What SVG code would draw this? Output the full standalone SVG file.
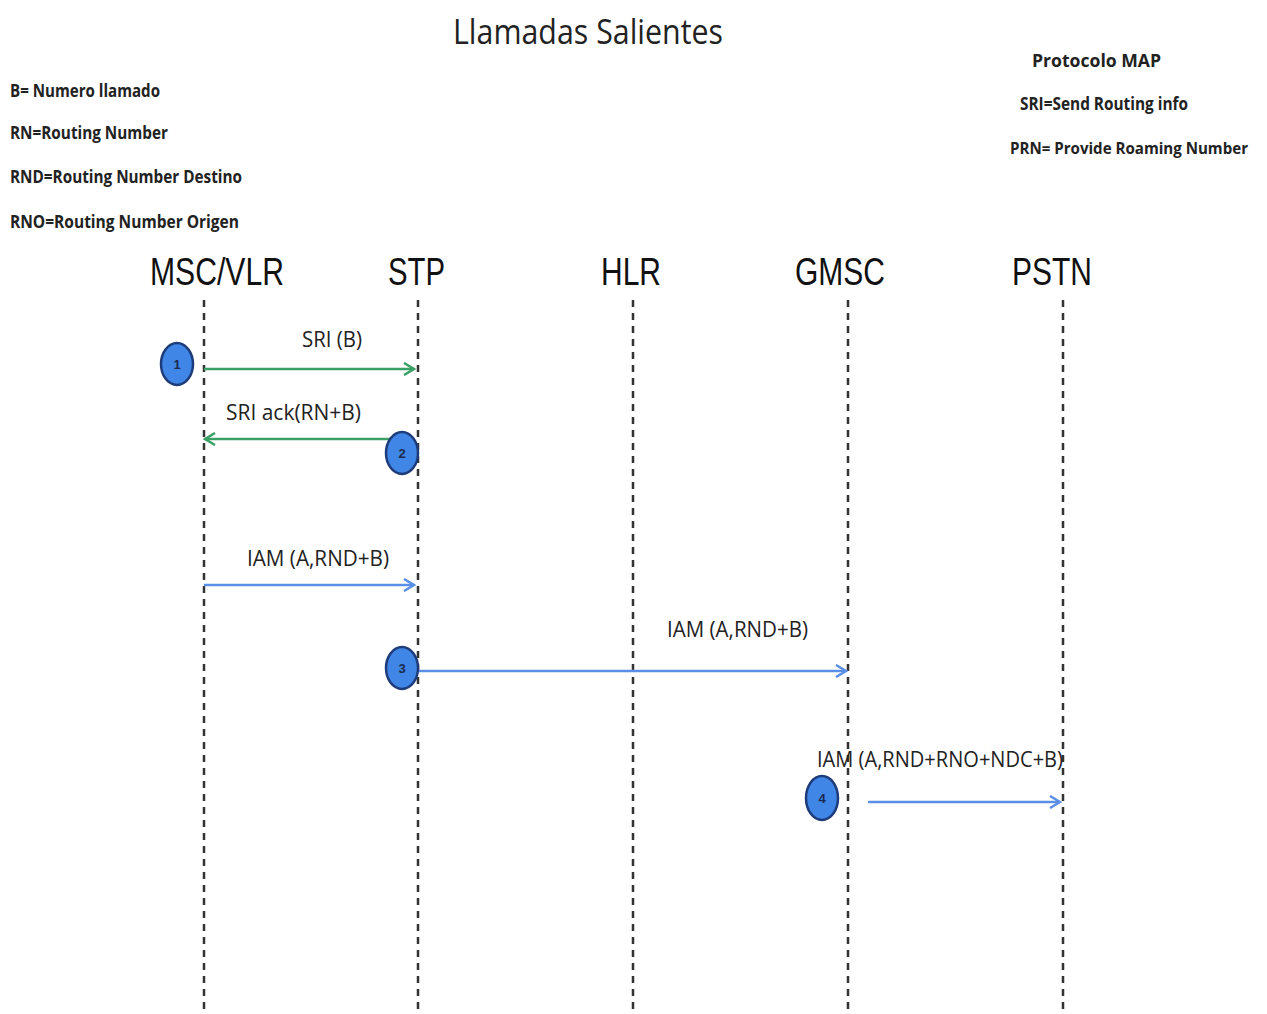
<svg xmlns="http://www.w3.org/2000/svg" width="1267" height="1014" viewBox="0 0 1267 1014">
  <defs>
    <style>
      .title { font-family: "Open Sans", "Liberation Sans", sans-serif; font-size: 34px; fill: #222; }
      .legend { font-family: "Open Sans", "Liberation Sans", sans-serif; font-size: 18px; font-weight: bold; fill: #222; }
      .legend.small { font-size: 16px; }
      .actor { font-family: "Liberation Sans", Arial, sans-serif; font-size: 38px; fill: #111; }
      .msg { font-family: "Open Sans", "Liberation Sans", sans-serif; font-size: 21px; fill: #222; }
      .life { stroke: #333; stroke-width: 2.5; stroke-dasharray: 7 6; fill: none; }
      .green { stroke: #3aa066; stroke-width: 2.5; fill: none; }
      .blue { stroke: #5b8ee6; stroke-width: 2.5; fill: none; }
      .step { fill: #3f86e6; stroke: #1f3c7a; stroke-width: 2.5; }
      .num { font-family: "Liberation Sans", Arial, sans-serif; font-size: 13px; font-weight: bold; fill: #1a2a50; text-anchor: middle; }
    </style>
    <marker id="ah-green" markerWidth="14" markerHeight="14" refX="12" refY="7" orient="auto" markerUnits="userSpaceOnUse">
      <path d="M2,1 L12,7 L2,13" fill="none" stroke="#3aa066" stroke-width="2.5"/>
    </marker>
    <marker id="ah-blue" markerWidth="14" markerHeight="14" refX="12" refY="7" orient="auto" markerUnits="userSpaceOnUse">
      <path d="M2,1 L12,7 L2,13" fill="none" stroke="#5b8ee6" stroke-width="2.5"/>
    </marker>
  </defs>
  <rect width="1267" height="1014" fill="#fff"/>

  <!-- title and legends -->
  <text class="title" x="453" y="44" textLength="270" lengthAdjust="spacingAndGlyphs">Llamadas Salientes</text>
  <g id="legend-left">
    <text class="legend" x="10" y="97" textLength="150" lengthAdjust="spacingAndGlyphs">B= Numero llamado</text>
    <text class="legend" x="10" y="139" textLength="158" lengthAdjust="spacingAndGlyphs">RN=Routing Number</text>
    <text class="legend" x="10" y="183" textLength="232" lengthAdjust="spacingAndGlyphs">RND=Routing Number Destino</text>
    <text class="legend" x="10" y="228" textLength="229" lengthAdjust="spacingAndGlyphs">RNO=Routing Number Origen</text>
  </g>
  <g id="legend-right">
    <text class="legend" x="1032" y="67" textLength="129" lengthAdjust="spacingAndGlyphs">Protocolo MAP</text>
    <text class="legend" x="1020" y="110" textLength="168" lengthAdjust="spacingAndGlyphs">SRI=Send Routing info</text>
    <text class="legend small" x="1010" y="154" textLength="238" lengthAdjust="spacingAndGlyphs">PRN= Provide Roaming Number</text>
  </g>

  <!-- actors with lifelines -->
  <g id="msc-vlr">
    <text class="actor" x="150" y="285" textLength="134" lengthAdjust="spacingAndGlyphs">MSC/VLR</text>
    <line class="life" x1="204" y1="300" x2="204" y2="1014"/>
  </g>
  <g id="stp">
    <text class="actor" x="388" y="285" textLength="57" lengthAdjust="spacingAndGlyphs">STP</text>
    <line class="life" x1="418" y1="300" x2="418" y2="1014"/>
  </g>
  <g id="hlr">
    <text class="actor" x="601" y="285" textLength="60" lengthAdjust="spacingAndGlyphs">HLR</text>
    <line class="life" x1="633" y1="300" x2="633" y2="1014"/>
  </g>
  <g id="gmsc">
    <text class="actor" x="795" y="285" textLength="90" lengthAdjust="spacingAndGlyphs">GMSC</text>
    <line class="life" x1="848" y1="300" x2="848" y2="1014"/>
  </g>
  <g id="pstn">
    <text class="actor" x="1012" y="285" textLength="80" lengthAdjust="spacingAndGlyphs">PSTN</text>
    <line class="life" x1="1063" y1="300" x2="1063" y2="1014"/>
  </g>

  <!-- messages -->
  <g id="connectors">
    <line class="green" x1="204" y1="369" x2="414" y2="369" marker-end="url(#ah-green)"/>
    <line class="green" x1="400" y1="439" x2="205" y2="439" marker-end="url(#ah-green)"/>
    <line class="blue" x1="204" y1="585" x2="414" y2="585" marker-end="url(#ah-blue)"/>
    <line class="blue" x1="418" y1="671" x2="846" y2="671" marker-end="url(#ah-blue)"/>
    <line class="blue" x1="868" y1="802" x2="1060" y2="802" marker-end="url(#ah-blue)"/>
  </g>
  <g id="labels">
    <text class="msg" x="302" y="347" textLength="60" lengthAdjust="spacingAndGlyphs">SRI (B)</text>
    <text class="msg" x="226" y="420" textLength="135" lengthAdjust="spacingAndGlyphs">SRI  ack(RN+B)</text>
    <text class="msg" x="247" y="566" textLength="142" lengthAdjust="spacingAndGlyphs">IAM (A,RND+B)</text>
    <text class="msg" x="667" y="637" textLength="141" lengthAdjust="spacingAndGlyphs">IAM (A,RND+B)</text>
    <text class="msg" x="817" y="767" textLength="246" lengthAdjust="spacingAndGlyphs">IAM (A,RND+RNO+NDC+B)</text>
  </g>

  <!-- numbered steps -->
  <g id="step-1">
    <ellipse class="step" cx="177" cy="364" rx="16" ry="21"/>
    <text class="num" x="177" y="369">1</text>
  </g>
  <g id="step-2">
    <ellipse class="step" cx="402" cy="453" rx="16" ry="21"/>
    <text class="num" x="402" y="458">2</text>
  </g>
  <g id="step-3">
    <ellipse class="step" cx="402" cy="668" rx="16" ry="21"/>
    <text class="num" x="402" y="673">3</text>
  </g>
  <g id="step-4">
    <ellipse class="step" cx="822" cy="798" rx="16" ry="22"/>
    <text class="num" x="822" y="803">4</text>
  </g>
</svg>
